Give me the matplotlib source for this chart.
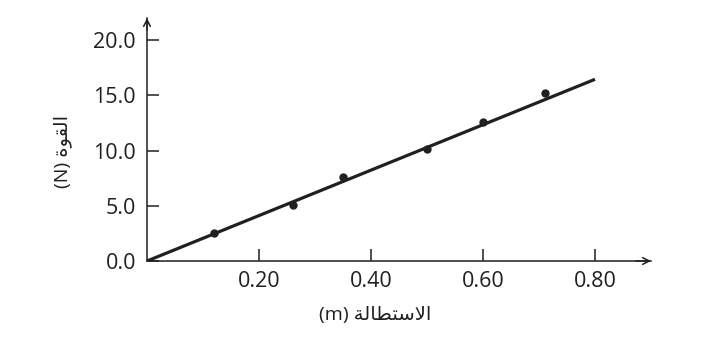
import matplotlib
matplotlib.use('Agg')
import matplotlib.pyplot as plt

# data
stretch = [0.12, 0.26, 0.35, 0.50, 0.60, 0.71]
force = [2.5, 5.1, 7.6, 10.1, 12.6, 15.2]
fit_x = [0.0, 0.80]
fit_y = [0.0, 16.45]

xticks = [0.20, 0.40, 0.60, 0.80]
xtick_labels = ['0.20', '0.40', '0.60', '0.80']
yticks = [0.0, 5.0, 10.0, 15.0, 20.0]
ytick_labels = ['0.0', '5.0', '10.0', '15.0', '20.0']

# Arabic pre-shaped (presentation forms, visual order) since matplotlib does no shaping
ylabel = '(N) ' + '\ufe93\ufeee\ufed8\ufedf\ufe8d'            # القوة
xlabel = '(m) ' + '\ufe94\ufedf\ufe8e\ufec4\ufe98\ufeb3\ufefb\ufe8d'  # الاستطالة

ink = '#231f20'
fonts = ['Open Sans', 'DejaVu Sans']

fig = plt.figure(figsize=(7.02, 3.52), dpi=100)
ax = fig.add_axes([147 / 702, 91 / 352, 504 / 702, 243 / 352])

ax.plot(fit_x, fit_y, color=ink, lw=2.3, solid_capstyle='butt')
ax.plot(stretch, force, 'o', color=ink, ms=5)

ax.set_xlim(0, 0.9)
ax.set_ylim(0, 22.0)

for s in ['top', 'right']:
    ax.spines[s].set_visible(False)
for s in ['left', 'bottom']:
    ax.spines[s].set_color(ink)
    ax.spines[s].set_linewidth(1.1)

ax.set_xticks(xticks)
ax.set_xticklabels(xtick_labels, family=fonts, fontsize=15.5, color=ink)
ax.set_yticks(yticks)
ax.set_yticklabels(ytick_labels, family=fonts, fontsize=15.5, color=ink)
ax.tick_params(axis='both', direction='in', length=8.5, width=1.1, color=ink)
ax.tick_params(axis='y', pad=8)
ax.tick_params(axis='x', pad=7)

# arrow heads on the axes
ax.annotate('', xy=(1.0, 0), xytext=(0.97, 0), xycoords='axes fraction',
            arrowprops=dict(arrowstyle='->', color=ink, lw=1.1,
                            shrinkA=0, shrinkB=0, mutation_scale=12),
            annotation_clip=False)
ax.annotate('', xy=(0, 1.0), xytext=(0, 0.95), xycoords='axes fraction',
            arrowprops=dict(arrowstyle='->', color=ink, lw=1.1,
                            shrinkA=0, shrinkB=0, mutation_scale=12),
            annotation_clip=False)

ax.set_ylabel(ylabel, family=fonts, fontsize=14, color=ink)
ax.yaxis.set_label_coords(-0.148, 0.45)
ax.set_xlabel(xlabel, family=fonts, fontsize=14, color=ink)
ax.xaxis.set_label_coords(0.452, -0.185)

fig.savefig('out.png', dpi=100)
